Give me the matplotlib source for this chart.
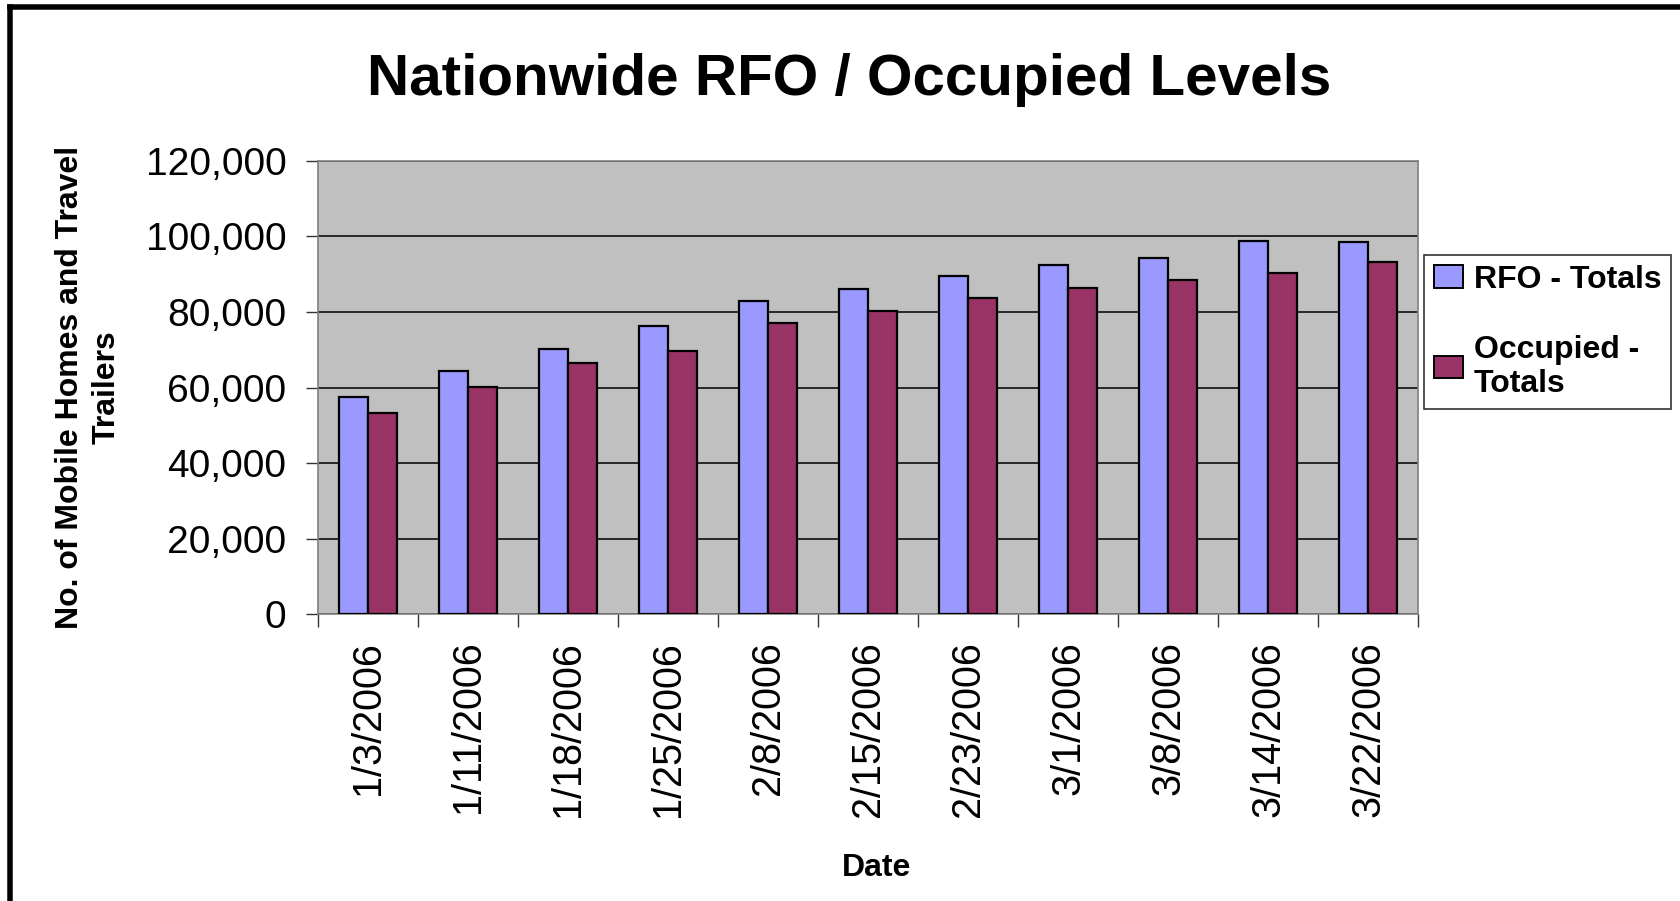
import matplotlib
matplotlib.use("Agg")
import matplotlib.pyplot as plt
from matplotlib.lines import Line2D
from matplotlib.patches import Rectangle
from matplotlib.legend_handler import HandlerPatch
from matplotlib.ticker import FuncFormatter, FixedLocator
import numpy as np

dates = ["1/3/2006", "1/11/2006", "1/18/2006", "1/25/2006", "2/8/2006",
         "2/15/2006", "2/23/2006", "3/1/2006", "3/8/2006", "3/14/2006", "3/22/2006"]
rfo_totals = [57600, 64500, 70300, 76200, 82900, 86200, 89400, 92500, 94200, 98900, 98400]
occupied_totals = [53300, 60200, 66600, 69700, 77200, 80300, 83600, 86300, 88400, 90400, 93100]
series_labels = ["RFO - Totals", "Occupied -\nTotals"]
yticks = [0, 20000, 40000, 60000, 80000, 100000, 120000]

plt.rcParams['font.family'] = ['Liberation Sans', 'DejaVu Sans']

W, H = 1681, 901
fig = plt.figure(figsize=(W / 100, H / 100), dpi=100)
fig.patch.set_facecolor("white")

left, right, top, bottom = 318.4, 1418.0, 160.8, 614.3
ax = fig.add_axes([left / W, 1 - bottom / H, (right - left) / W, (bottom - top) / H])
ax.set_facecolor("#C0C0C0")

x = np.arange(len(dates))
bw = 0.29
ax.bar(x - bw / 2, rfo_totals, width=bw, color="#9999FF", edgecolor="black",
       linewidth=1.6, label=series_labels[0], zorder=3)
ax.bar(x + bw / 2, occupied_totals, width=bw, color="#993366", edgecolor="black",
       linewidth=1.6, label=series_labels[1], zorder=3)

ax.set_xlim(-0.5, len(dates) - 0.5)
ax.set_ylim(0, 120000)
ax.set_yticks(yticks)
ax.yaxis.set_major_formatter(FuncFormatter(lambda v, p: f"{int(v):,}"))
ax.grid(axis="y", color="black", linewidth=1.1, zorder=1)
ax.set_axisbelow(True)

# category boundary ticks, labels at centers
ax.xaxis.set_major_locator(FixedLocator(np.arange(-0.5, len(dates), 1.0)))
ax.xaxis.set_major_formatter(FuncFormatter(lambda v, p: ""))
ax.xaxis.set_minor_locator(FixedLocator(x))
ax.set_xticklabels(dates, minor=True, rotation=90, fontsize=28.5)
ax.tick_params(axis="x", which="major", length=9, width=1, color="#333333", direction="out")
ax.tick_params(axis="x", which="minor", length=0, pad=19)
ax.tick_params(axis="y", length=9, width=1, color="#333333", direction="out",
               labelsize=28, pad=14)

for s in ax.spines.values():
    s.set_color("#808080")
    s.set_linewidth(1.2)

fig.text(0.505, 1 - 80 / H, "Nationwide RFO / Occupied Levels", ha="center", va="center",
         fontsize=42, fontweight="bold")
fig.text(88 / W, 1 - 387 / H, "No. of Mobile Homes and Travel\nTrailers", rotation=90,
         ha="center", va="center", fontsize=23, fontweight="bold", linespacing=1.3,
         multialignment="center")
fig.text(877 / W, 1 - 868 / H, "Date", ha="center", va="center", fontsize=23,
         fontweight="bold")


def square_patch(legend, orig_handle, xdescent, ydescent, width, height, fontsize):
    s = 12.2
    return Rectangle((width - s - xdescent, (height - s) / 2 - ydescent), s, s)


leg = ax.legend(loc="upper left", bbox_to_anchor=(1424 / W, 1 - 255 / H),
                bbox_transform=fig.transFigure, prop={"weight": "bold", "size": 23},
                frameon=True, fancybox=False, edgecolor="black", borderpad=0.3,
                handlelength=0.91, handleheight=0.7, handletextpad=0.35,
                labelspacing=1.25, borderaxespad=0,
                handler_map={Rectangle: HandlerPatch(patch_func=square_patch)})
leg.get_frame().set_linewidth(1.2)
for h in leg.legend_handles:
    h.set_linewidth(1.4)
    h.set_edgecolor("black")

# outer border (left and top visible)
lw = 5.5 * 72 / 100
fig.add_artist(Line2D([10.5 / W, 10.5 / W], [0, 1 - 6.5 / H], color="black", linewidth=lw,
                      solid_capstyle="projecting"))
fig.add_artist(Line2D([10.5 / W, 1.0], [1 - 6.5 / H, 1 - 6.5 / H], color="black",
                      linewidth=lw, solid_capstyle="projecting"))

fig.savefig("out.png", dpi=100)
